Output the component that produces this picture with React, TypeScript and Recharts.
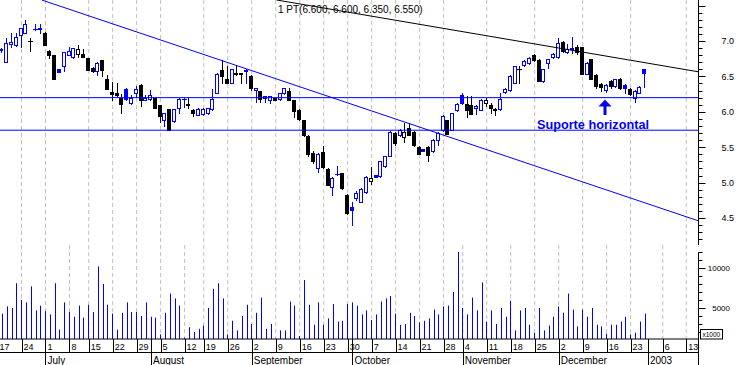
import React from 'react';
import { ComposedChart, Bar, XAxis, YAxis, CartesianGrid, ReferenceLine } from 'recharts';

// daily OHLC, one entry per trading day (mid June 2002 -> 27 Dec 2002)
const opens = [6.87,6.71,6.96,6.94,7.09,7.11,7.00,7.17,7.17,7.12, 6.86,6.80,6.60,6.64,6.80,6.78,6.82,6.82,6.76,6.62, 6.58,6.73,6.46,6.28,6.27,6.19,6.32,6.13,6.26,6.38, 6.17,6.18,6.19,6.10,5.88,6.04,5.87,6.06,6.18,6.11, 6.02,5.96,5.97,5.98,6.04,6.26,6.59,6.46,6.41,6.55, 6.55,6.58,6.50,6.31,6.29,6.19,6.17,6.20,6.18,6.26, 6.29,6.17,6.02,5.88,5.66,5.42,5.20,5.43,5.19,4.94, 5.12,5.13,4.83,4.66,4.78,4.73,4.87,5.02,5.11,5.09, 5.23,5.38,5.70,5.67,5.65,5.77,5.72,5.51,5.47,5.51, 5.44,5.60,5.74,5.88,5.75,6.02,6.24,6.11,6.10,6.05, 6.03,6.12,6.09,6.02,6.04,6.28,6.31,6.41,6.60,6.66, 6.69,6.80,6.73,6.43,6.69,6.77,6.77,6.98,6.85,6.89, 6.91,6.91,6.54,6.74,6.52,6.39,6.31,6.43,6.36,6.46, 6.38,6.32,6.20,6.27,6.60];
const highs = [6.90,7.04,7.12,7.11,7.19,7.30,7.04,7.24,7.24,7.13, 6.87,6.80,6.60,6.84,6.92,6.90,6.94,6.88,6.76,6.63, 6.71,6.73,6.52,6.42,6.40,6.25,6.33,6.24,6.36,6.39, 6.24,6.31,6.20,6.10,5.98,6.04,6.04,6.19,6.20,6.19, 6.04,6.05,6.05,6.05,6.32,6.55,6.73,6.65,6.61,6.64, 6.55,6.60,6.52,6.34,6.29,6.23,6.23,6.20,6.27,6.34, 6.33,6.17,6.04,5.89,5.67,5.45,5.42,5.52,5.20,5.08, 5.23,5.14,4.84,4.72,4.88,4.92,5.09,5.22,5.11,5.31, 5.38,5.73,5.72,5.76,5.84,5.84,5.73,5.52,5.47,5.52, 5.61,5.71,5.95,5.89,5.99,6.12,6.27,6.22,6.22,6.10, 6.18,6.20,6.12,6.06,6.26,6.33,6.52,6.65,6.64,6.73, 6.77,6.82,6.74,6.61,6.74,6.83,7.04,7.00,6.96,7.06, 6.95,6.92,6.70,6.75,6.53,6.41,6.39,6.45,6.47,6.48, 6.39,6.33,6.31,6.36,6.60];
const lows = [6.85,6.71,6.92,6.93,6.92,7.11,6.86,7.15,7.11,6.94, 6.76,6.46,6.56,6.58,6.80,6.76,6.77,6.78,6.59,6.56, 6.52,6.50,6.32,6.17,6.22,5.99,6.17,6.11,6.21,6.08, 6.16,6.17,6.05,5.86,5.80,5.74,5.86,5.99,6.07,6.05, 5.94,5.95,5.96,5.97,6.03,6.26,6.41,6.40,6.40,6.52, 6.40,6.40,6.31,6.14,6.14,6.14,6.12,6.17,6.17,6.25, 6.17,5.93,5.88,5.66,5.38,5.28,5.15,5.21,4.96,4.82, 5.11,4.91,4.56,4.40,4.75,4.72,4.86,4.98,5.08,5.08, 5.22,5.37,5.53,5.66,5.58,5.67,5.52,5.40,5.45,5.31, 5.43,5.53,5.73,5.68,5.74,6.01,6.11,5.93,5.97,5.97, 6.02,6.08,5.98,5.95,6.03,6.27,6.30,6.40,6.41,6.65, 6.68,6.72,6.43,6.42,6.62,6.76,6.76,6.85,6.83,6.83, 6.82,6.53,6.53,6.46,6.34,6.30,6.28,6.33,6.35,6.32, 6.27,6.24,6.14,6.26,6.35];
const closes = [6.88,6.97,6.99,7.05,7.18,7.24,7.00,7.17,7.18,6.94, 6.80,6.46,6.56,6.84,6.86,6.90,6.89,6.78,6.59,6.58, 6.69,6.59,6.32,6.25,6.24,6.11,6.18,6.19,6.32,6.16, 6.20,6.24,6.05,5.94,5.98,5.74,6.04,6.18,6.18,6.10, 5.98,6.04,6.04,6.05,6.18,6.54,6.51,6.41,6.60,6.54, 6.53,6.59,6.33,6.34,6.18,6.22,6.22,6.17,6.26,6.33, 6.17,6.01,5.90,5.67,5.40,5.30,5.41,5.22,4.97,5.06, 5.12,4.92,4.57,4.62,4.86,4.91,5.08,5.06,5.08,5.30, 5.37,5.72,5.56,5.75,5.72,5.67,5.53,5.41,5.45,5.39, 5.60,5.70,5.94,5.69,5.98,6.11,6.12,6.02,5.97,6.08, 6.17,6.16,6.05,6.04,6.18,6.32,6.51,6.64,6.60,6.72, 6.76,6.73,6.43,6.60,6.74,6.82,6.97,6.86,6.88,6.90, 6.85,6.53,6.69,6.47,6.36,6.35,6.38,6.36,6.46,6.33, 6.33,6.25,6.30,6.35,6.55];
// volume in thousands of shares (axis says x1000)
const volumes = [4300,5200,5000,8100,6000,5700,7700,4700,5300,4600, 4200,8100,2300,5700,4500,3900,5300,3800,5400,4500, 10200,8000,5400,4300,2300,4400,5700,4500,4500,4000, 5700,3900,3800,1700,4400,6800,6200,5300,1300,2600, 2000,2400,2800,5000,7400,8100,6200,1700,3400,2200, 4000,5400,3000,4400,6300,2400,3000,1150,2200,2200, 5800,5300,1500,8500,5400,2900,5700,2900,3700,5500, 3300,3400,5500,5700,5300,4200,4700,3500,4200,5800, 6200,6500,4300,2900,3000,4400,4000,3200,3400,3700, 4800,4200,5200,5300,7000,12000,5000,4200,6300,4700, 8200,3300,4700,3000,5000,3900,5900,2200,4700,5000, 2900,1900,5000,2200,2800,3900,5200,4400,6800,4800, 2700,4800,3900,5000,2900,2700,1800,2900,2900,3300, 3900,1700,1900,3300,4300];

// x positions are trading-day indexes
const weekTicks = [-1, 4, 9, 14, 18, 23, 28, 33, 38, 42, 47, 52, 57, 62, 67, 72, 77, 82, 87, 92, 96, 101, 106, 111, 116, 121, 126, 131, 137.7, 142.6];
const weekLabels = ['17', '24', '1', '8', '15', '22', '29', '5', '12', '19', '26', '2', '9', '16', '23', '30', '7', '14', '21', '28', '4', '11', '18', '25', '2', '9', '16', '23', '6', '13'];
const monthTicks = [9, 31, 52, 73, 96, 116, 134.6];
const monthLabels = ['July', 'August', 'September', 'October', 'November', 'December', '2003'];
const gridDays = weekTicks.slice(1);

const priceTicks = [4.2, 4.3, 4.4, 4.5, 4.6, 4.7, 4.8, 4.9, 5.0, 5.1, 5.2, 5.3, 5.4, 5.5, 5.6, 5.7, 5.8, 5.9, 6.0, 6.1, 6.2, 6.3, 6.4, 6.5, 6.6, 6.7, 6.8, 6.9, 7.0, 7.1, 7.2, 7.3, 7.4, 7.5];
const priceLabels = [4.5, 5.0, 5.5, 6.0, 6.5, 7.0];
const volumeTicks = [2000, 3000, 4000, 5000, 6000, 7000, 8000, 9000, 10000, 11000, 12000];
const volumeLabels = [5000, 10000];

const supportLevels = [6.2, 5.74];
const blueTrend = [{ x: 8.21, y: 7.579 }, { x: 145.05, y: 4.462 }];
const blackTrend = [{ x: 57.2, y: 7.579 }, { x: 145.05, y: 6.566 }];

const X_DOMAIN: [number, number] = [-0.486, 145.05];
const PRICE_DOMAIN: [number, number] = [4.119, 7.579];
const VOL_DOMAIN: [number, number] = [1125, 12875];

const BLUE = '#0000ff';
const FONT = '"Liberation Sans", Arial, sans-serif';

const rows = opens.map((o, i) => ({
  i,
  open: o,
  high: highs[i],
  low: lows[i],
  close: closes[i],
  prevClose: i > 0 ? closes[i - 1] : o,
  volume: volumes[i],
}));

const last = rows.length - 1;
const headline = `1 PT(${opens[last].toFixed(3)}, ${highs[last].toFixed(3)}, ${lows[last].toFixed(3)}, ${closes[last].toFixed(3)})`;

// hollow = close above open, colour = close vs previous close
const Candle = (props: any) => {
  const { x, y, width, height, payload } = props;
  if (!payload) return null;
  const { open, close, high, low, prevClose } = payload;
  const color = close >= prevClose ? BLUE : '#000';
  const top = Math.min(y, y + height);
  const h = Math.abs(height);
  const k = h / (high - low);
  const px = Math.floor(x + width / 2);
  const wx = px + 0.5;
  const bTop = Math.round(top + (high - Math.max(open, close)) * k);
  const bBot = Math.round(top + (high - Math.min(open, close)) * k);
  const yHigh = Math.round(top);
  const yLow = Math.round(top + h);

  if (bBot - bTop < 1) {
    return (
      <g>
        <line x1={wx} x2={wx} y1={yHigh} y2={yLow + 1} stroke={color} />
        <line x1={px - 2} x2={px + 3} y1={bTop + 0.5} y2={bTop + 0.5} stroke={color} />
      </g>
    );
  }
  if (close > open) {
    return (
      <g>
        <line x1={wx} x2={wx} y1={yHigh} y2={bTop} stroke={color} />
        <line x1={wx} x2={wx} y1={bBot} y2={yLow + 1} stroke={color} />
        <rect x={px - 1.5} y={bTop + 0.5} width={3} height={bBot - bTop} fill="#fff" stroke={color} />
      </g>
    );
  }
  return (
    <g>
      <line x1={wx} x2={wx} y1={yHigh} y2={yLow + 1} stroke={color} />
      <rect x={px - 2} y={bTop} width={4} height={bBot - bTop + 1} fill={color} />
    </g>
  );
};

const VolumeBar = (props: any) => {
  const { x, y, width, height } = props;
  if (!height || height <= 0) return null;
  return <rect x={Math.floor(x + width / 2)} y={y} width={1} height={height} fill={BLUE} />;
};

const PriceTick = (props: any) => {
  const { x, y, payload } = props;
  const v = payload.value;
  const ax = Math.round(x) + 0.5;
  const yy = Math.round(y) + 0.5;
  const major = priceLabels.some(p => Math.abs(p - v) < 1e-6) || Math.abs(v - 7.5) < 1e-6;
  const label = priceLabels.find(p => Math.abs(p - v) < 1e-6);
  return (
    <g>
      <line x1={ax} x2={ax} y1={yy - 7.4} y2={v === priceTicks[0] ? yy + 6 : yy} stroke="#000" />
      <line x1={ax} x2={ax + (major ? 7 : 4)} y1={yy} y2={yy} stroke="#000" />
      {label !== undefined && (
        <text x={x + 36} y={y + 3.3} textAnchor="end" fontSize={9} fontFamily={FONT} fill="#000">
          {label.toFixed(1)}
        </text>
      )}
    </g>
  );
};

const VolumeTick = (props: any) => {
  const { x, y, payload } = props;
  const v = payload.value;
  const ax = Math.round(x) + 0.5;
  const yy = Math.round(y) + 0.5;
  const major = volumeLabels.includes(v);
  return (
    <g>
      {v < volumeTicks[volumeTicks.length - 1] && (
        <line x1={ax} x2={ax} y1={yy - 8.2} y2={v === volumeTicks[0] ? yy + 7 : yy} stroke="#000" />
      )}
      <line x1={ax} x2={ax + (major ? 7 : 4)} y1={yy} y2={yy} stroke="#000" />
      {major && (
        <text x={x + 32} y={y + 2.9} textAnchor="end" fontSize={8} fontFamily={FONT} fill="#000">
          {v}
        </text>
      )}
    </g>
  );
};

const DateTick = (props: any) => {
  const { x, y, payload } = props;
  const v = payload.value;
  const wi = weekTicks.indexOf(v);
  const mi = monthTicks.indexOf(v);
  const lx = Math.round(x) + 0.5;
  return (
    <g>
      {mi >= 0 ? (
        <line x1={lx} x2={lx} y1={y} y2={y + 26} stroke="#000" />
      ) : (
        <line x1={lx} x2={lx} y1={y} y2={y + 14} stroke="#000" />
      )}
      {wi >= 0 && (
        <text x={x + 2} y={y + 11} fontSize={9} fontFamily={FONT} fill="#000">
          {weekLabels[wi]}
        </text>
      )}
      {mi >= 0 && (
        <text x={x + 2} y={y + 24.5} fontSize={10} fontFamily={FONT} fill="#000">
          {monthLabels[mi]}
        </text>
      )}
    </g>
  );
};

const axisTicks = Array.from(new Set([...weekTicks, ...monthTicks])).sort((a, b) => a - b);

export default function App() {
  return (
    <div style={{ position: 'absolute', left: 0, top: 0, width: 738, height: 365, background: '#fff' }}>
      <ComposedChart width={738} height={245} data={rows} margin={{ top: 0, right: 0, bottom: 0, left: 0 }}>
        <CartesianGrid vertical horizontal={false} verticalValues={gridDays} stroke="#c0c0c0" strokeDasharray="4 3" />
        <XAxis type="number" dataKey="i" domain={X_DOMAIN} allowDataOverflow hide ticks={gridDays} />
        <YAxis
          yAxisId="p"
          orientation="right"
          width={40}
          domain={PRICE_DOMAIN}
          allowDataOverflow
          ticks={priceTicks}
          interval={0}
          tickSize={0}
          tickMargin={0}
          axisLine={false}
          tickLine={false}
          tick={<PriceTick />}
        />
        {supportLevels.map(level => (
          <ReferenceLine key={level} yAxisId="p" y={level} stroke={BLUE} strokeWidth={1} />
        ))}
        <ReferenceLine yAxisId="p" segment={blueTrend} stroke={BLUE} ifOverflow="hidden" />
        <ReferenceLine yAxisId="p" segment={blackTrend} stroke="#000" ifOverflow="hidden" />
        <Bar
          yAxisId="p"
          dataKey={(d: any) => [d.low, d.high]}
          barSize={4}
          shape={<Candle />}
          isAnimationActive={false}
        />
      </ComposedChart>
      <ComposedChart width={738} height={120} data={rows} margin={{ top: 0, right: 0, bottom: 0, left: 0 }}>
        <CartesianGrid vertical horizontal={false} verticalValues={gridDays} stroke="#c0c0c0" strokeDasharray="4 3" />
        <XAxis
          type="number"
          dataKey="i"
          domain={X_DOMAIN}
          allowDataOverflow
          ticks={axisTicks}
          interval={0}
          height={26}
          tickSize={0}
          tickMargin={0}
          tickLine={false}
          axisLine={{ stroke: '#000' }}
          tick={<DateTick />}
        />
        <YAxis
          yAxisId="v"
          orientation="right"
          width={40}
          domain={VOL_DOMAIN}
          allowDataOverflow
          ticks={volumeTicks}
          interval={0}
          tickSize={0}
          tickMargin={0}
          axisLine={false}
          tickLine={false}
          tick={<VolumeTick />}
        />
        <Bar yAxisId="v" dataKey="volume" barSize={1} fill={BLUE} shape={<VolumeBar />} isAnimationActive={false} />
      </ComposedChart>
      <svg width={738} height={365} style={{ position: 'absolute', left: 0, top: 0, pointerEvents: 'none' }}>
        <text x={278} y={13} fontSize={10} fontFamily={FONT} fill="#000">{headline}</text>
        <text
          x={537}
          y={129}
          fontSize={13}
          fontWeight="bold"
          fontFamily={FONT}
          fill={BLUE}
          textLength={112}
          lengthAdjust="spacingAndGlyphs"
        >
          Suporte horizontal
        </text>
        <polygon points="605,99.5 611.5,106.5 598.5,106.5" fill={BLUE} />
        <rect x={603.5} y={106} width={3} height={9} fill={BLUE} />
        <line x1={0} x2={698} y1={352.5} y2={352.5} stroke="#000" />
        <line x1={698.5} x2={698.5} y1={339} y2={365} stroke="#000" />
        <rect x={700.5} y={329.5} width={22} height={9.5} fill="#fff" stroke="#000" />
        <text x={702.5} y={337} fontSize={6.5} fontFamily={FONT} fill="#000">x1000</text>
      </svg>
    </div>
  );
}
